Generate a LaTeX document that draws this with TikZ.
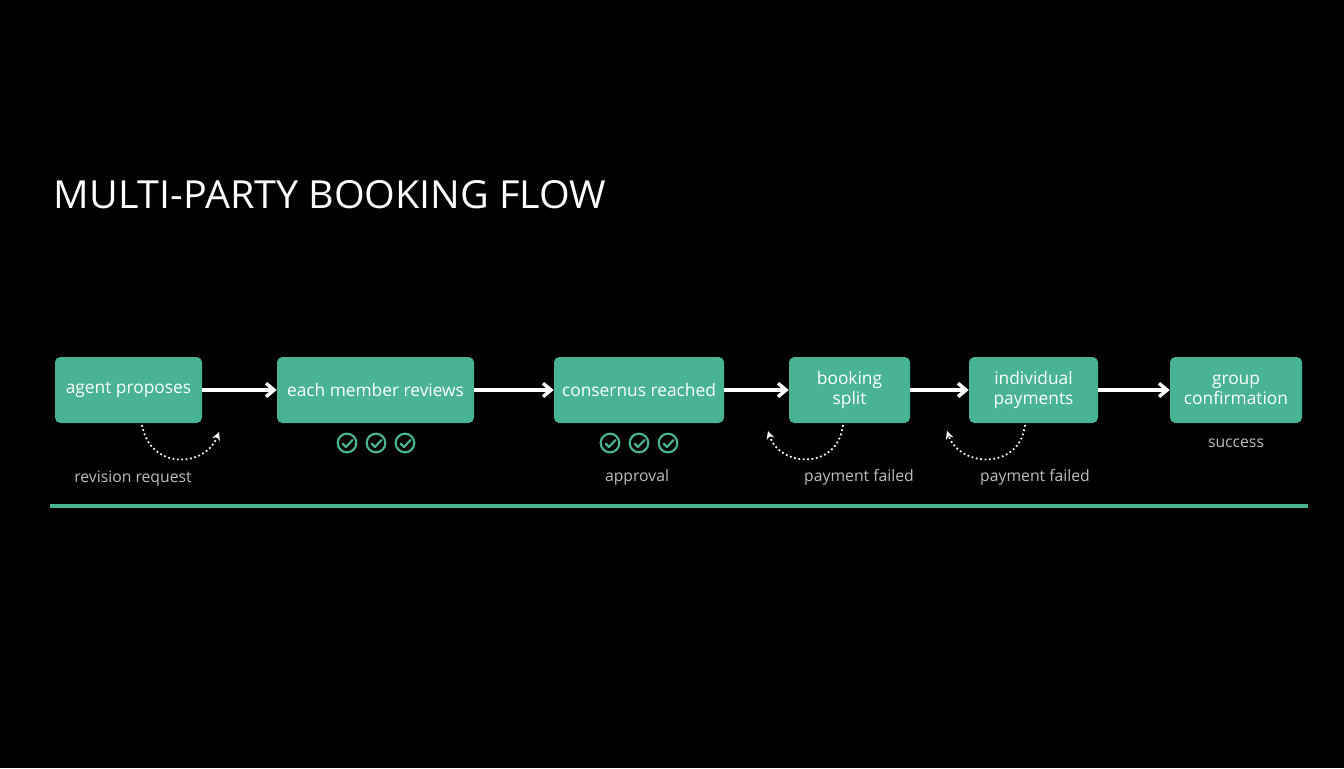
\documentclass[tikz,border=0pt]{standalone}
\usepackage{fontspec}
\setmainfont{Open Sans}
\usetikzlibrary{arrows.meta}
\definecolor{teal}{HTML}{48B494}
\definecolor{lbl}{HTML}{BDBDBD}
\begin{document}
\begin{tikzpicture}[x=0.75pt,y=-0.75pt,
 box/.style={fill=teal,rounded corners=4pt,text=white,font=\fontsize{13}{15}\selectfont,align=center,inner sep=0pt},
 flow/.style={white,line width=2.6pt,-{Straight Barb[length=6pt,width=10pt,line width=2.6pt]}},
 loop/.style={white,line width=1.3pt,dotted,-{Stealth[length=6pt,width=6pt]}},
 lab/.style={text=lbl,font=\fontsize{11.8}{13}\selectfont},
 chk/.style={draw=teal,line width=1.6pt,circle,minimum size=14pt,inner sep=0pt}]
\useasboundingbox[fill=black] (0,0) rectangle (1344,768);
\node[anchor=west,text=white,font=\fontsize{29}{32}\selectfont,xscale=1.02] (title) at (49,195) {MULTI-PARTY BOOKING FLOW};
\node[box,minimum width=147*0.75pt,minimum height=66*0.75pt] (a) at (128.5,390) {agent proposes};
\node[box,minimum width=197*0.75pt,minimum height=66*0.75pt] (b) at (375.5,390) {each member reviews};
\node[box,minimum width=170*0.75pt,minimum height=66*0.75pt] (c) at (639,390) {consernus reached};
\node[box,minimum width=121*0.75pt,minimum height=66*0.75pt] (d) at (849.5,390) {booking\\split};
\node[box,minimum width=129*0.75pt,minimum height=66*0.75pt] (e) at (1033.5,390) {individual\\payments};
\node[box,minimum width=132*0.75pt,minimum height=66*0.75pt] (f) at (1236,390) {group\\confirmation};
\draw[flow] (a) -- (b); \draw[flow] (b) -- (c); \draw[flow] (c) -- (d);
\draw[flow] (d) -- (e); \draw[flow] (e) -- (f);
\foreach \n/\x in {c1/347,c2/376,c3/405,c4/610,c5/639,c6/668}{
 \node[chk] (\n) at (\x,443) {};
 \draw[teal,line width=1.6pt,line cap=round,line join=round] ([shift={(-4.5,0.5)}]\n.center) -- ++(3.5,3.5) -- ++(6.5,-7);
}
\coordinate (la1) at (142,425); \coordinate (la2) at (219,432);
\draw[loop] (la1) .. controls (150,470) and (205,468) .. (la2);
\coordinate (ld1) at (843,425); \coordinate (ld2) at (768,431);
\draw[loop] (ld1) .. controls (838,470) and (780,468) .. (ld2);
\coordinate (le1) at (1025,425); \coordinate (le2) at (947,431);
\draw[loop] (le1) .. controls (1020,470) and (960,468) .. (le2);
\node[lab] (l1) at (133,479) {revision request};
\node[lab] (l2) at (637,477) {approval};
\node[lab] (l3) at (859,477) {payment failed};
\node[lab] (l4) at (1035,477) {payment failed};
\node[lab] (l5) at (1236,443) {success};
\draw[teal,line width=3pt] (50,506) coordinate (s1) -- (1308,506) coordinate (s2);
\end{tikzpicture}
\end{document}
